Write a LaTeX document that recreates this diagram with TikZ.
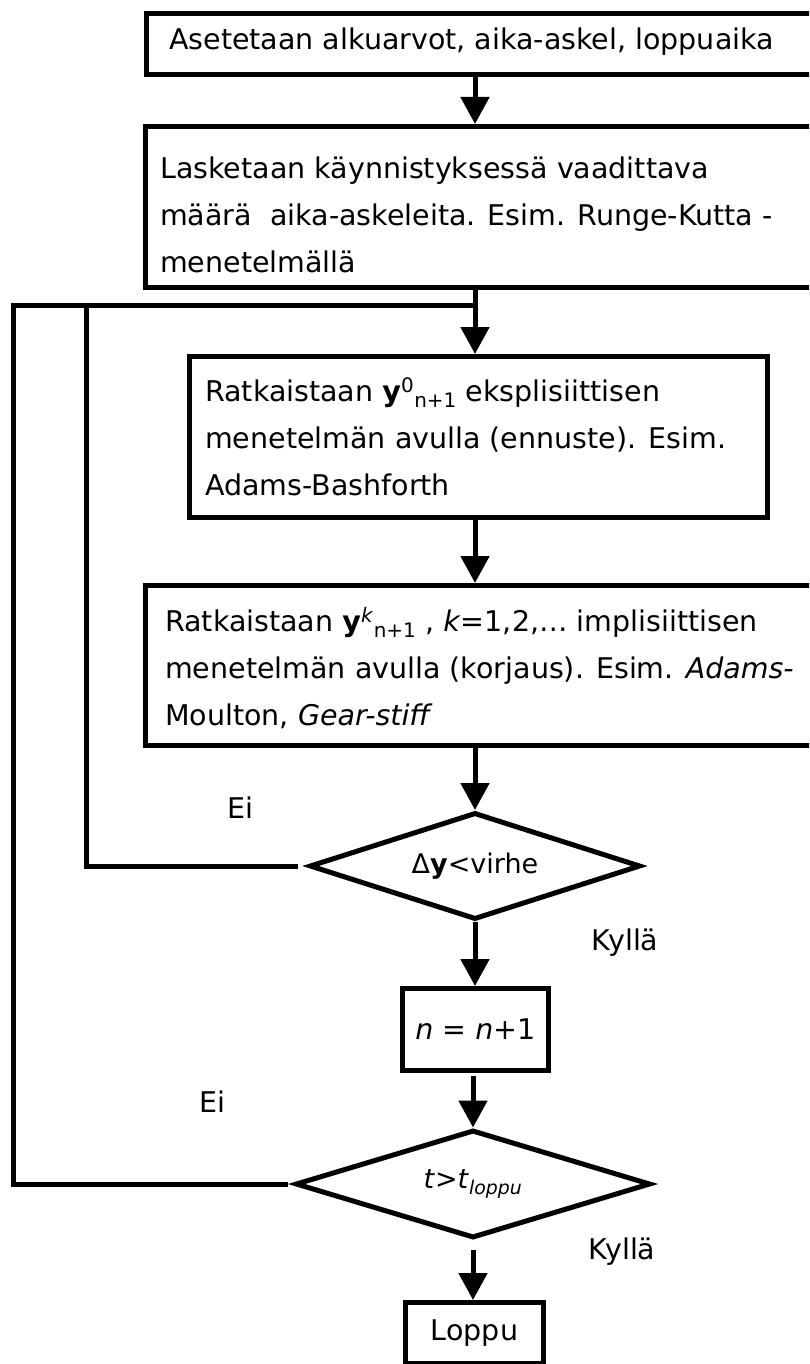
\documentclass[tikz,border=0pt]{standalone}
\usepackage{fontspec}
\setmainfont{DejaVu Sans}
\usetikzlibrary{arrows.meta,shapes.geometric}
\begin{document}
\begin{tikzpicture}[x=1pt,y=-1pt,
  box/.style={draw,line width=5pt,rectangle,inner sep=0pt,anchor=north west,font=\fontsize{28.5}{34}\selectfont},
  dia/.style={draw,line width=5pt,diamond,inner sep=0pt,aspect=3.1,font=\fontsize{27}{34}\selectfont},
  txt/.style={anchor=west,align=left,inner sep=0pt,font=\fontsize{28.5}{47}\selectfont},
  lbl/.style={inner sep=0pt,font=\fontsize{28.5}{34}\selectfont},
  arr/.style={line width=5pt,-{Triangle[width=28pt,length=27pt]}},
  loopline/.style={line width=5pt,line join=miter,line cap=rect}]
\path[use as bounding box] (0,0) rectangle (809,1364);
\clip (0,0) rectangle (809,1364);
% boxes
\node[box,minimum width=691pt,minimum height=61pt] (b1) at (144,11) {};
\node[txt] (t1) at (169,42) {Asetetaan alkuarvot, aika-askel, loppuaika};
\node[box,minimum width=692pt,minimum height=161pt] (b2) at (143,124) {};
\node[txt] (t2) at (160,215) {Lasketaan käynnistyksessä vaadittava\\määrä\ \ aika-askeleita. Esim. Runge-Kutta -\\menetelmällä};
\node[box,minimum width=578pt,minimum height=161pt] (b3) at (187,354) {};
\node[txt] (t3) at (205,437) {Ratkaistaan \textbf{y}\textsuperscript{0}\textsubscript{n+1} eksplisiittisen\\menetelmän avulla (ennuste). Esim.\\Adams-Bashforth};
\node[box,minimum width=692pt,minimum height=160pt] (b4) at (143,583) {};
\node[txt] (t4) at (165,668) {Ratkaistaan \textbf{y}\textsuperscript{\textit{k}}\textsubscript{n+1} , \textit{k}=1,2,… implisiittisen\\menetelmän avulla (korjaus). Esim. \textit{Adams-}\\Moulton, \textit{Gear-stiff}};
\node[dia,minimum width=331pt,minimum height=107pt] (d1) at (475,866) {Δ\textbf{y}<virhe};
\node[box,minimum width=146pt,minimum height=82pt] (b5) at (400,986) {\textit{n} = \textit{n}+1};
\node[dia,minimum width=355pt,minimum height=108pt] (d2) at (473,1184) {\textit{t}>\textit{t}\textsubscript{\textit{loppu}}};
\node[box,minimum width=138pt,minimum height=61pt] (b6) at (403,1300) {Loppu};
% labels
\node[lbl] (ei1) at (240,808) {Ei};
\node[lbl] (ky1) at (625,943) {Kyllä};
\node[lbl] (ei2) at (212,1102) {Ei};
\node[lbl] (ky2) at (622,1252) {Kyllä};
% connectors
\coordinate (ax) at (475,0);
\coordinate (j) at (475,305);
\coordinate (c1) at (86,305);
\coordinate (c2) at (13,305);
\draw[arr] (b1.south -| ax) -- (b2.north -| ax);
\draw[arr] (b2.south -| ax) -- (b3.north -| ax);
\draw[arr] (b3.south -| ax) -- (b4.north -| ax);
\draw[arr] (b4.south -| d1.north) -- (d1.north);
\draw[arr] (d1.south) -- (b5.north -| d1.south);
\draw[arr] ([yshift=-3pt]b5.south -| d2.north) -- (d2.north);
\draw[arr] ([yshift=-9pt]d2.south) -- (b6.north -| d2.south);
\draw[loopline] ([xshift=-12pt]d1.west) -| (c1);
\draw[loopline] ([xshift=-8pt]d2.west) -| (c2) -- (j);
\end{tikzpicture}
\end{document}
